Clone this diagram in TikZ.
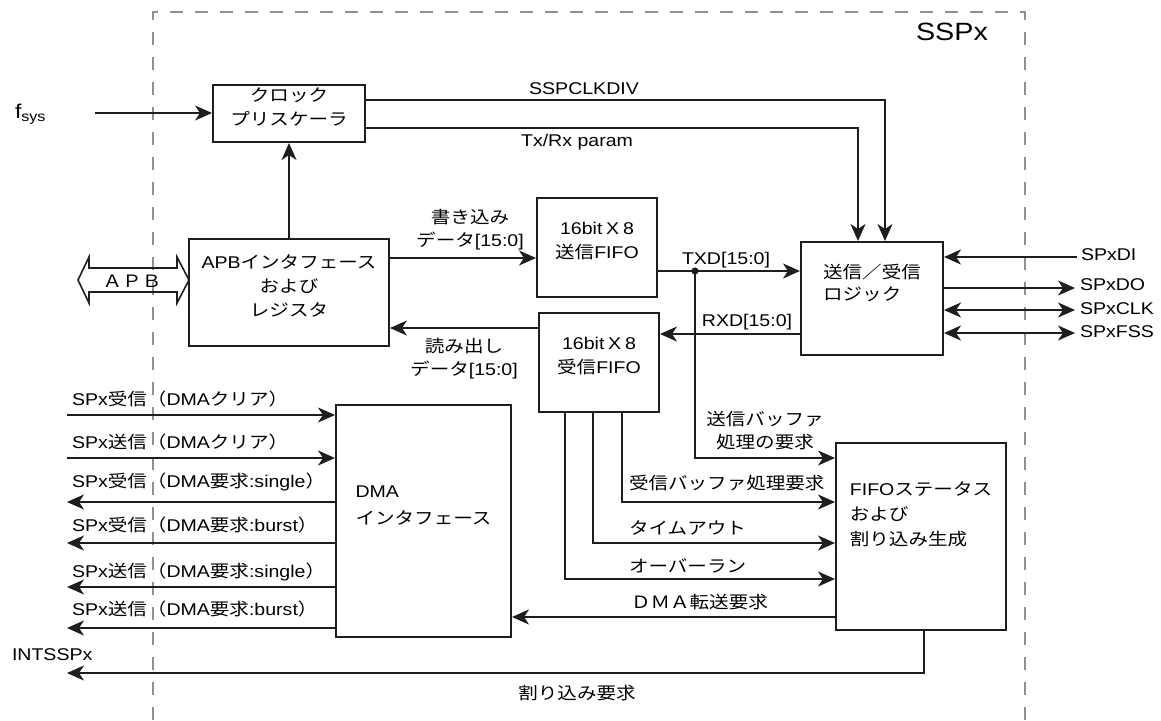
\documentclass[tikz,border=0pt]{standalone}
\usepackage{fontspec}
\setmainfont{Liberation Sans}[FakeStretch=1.15]
\newfontfamily\jpfont{Noto Sans CJK JP}[FakeStretch=1.15]
\newcommand{\jtxt}[1]{{\jpfont #1}}
\newcommand{\leftlines}[1]{\begin{tabular}{@{}l@{}}#1\end{tabular}}
\usepackage{xcolor}
\usepackage{tikz}
\usetikzlibrary{arrows.meta,fit}

\definecolor{sspgray}{HTML}{8E909E}
\definecolor{wirecol}{HTML}{1E1E1E}

\tikzset{
  blk/.style={draw=wirecol, line width=1pt, inner sep=0pt, align=center, font=\fontsize{8.5}{12}\selectfont},
  jp/.style={font=\fontsize{8.5}{12}\selectfont\jpfont},
  lbl/.style={inner sep=0pt, align=center, font=\fontsize{8.5}{11.5}\selectfont},
  wire/.style={draw=wirecol, line width=1pt},
  border/.style={draw=sspgray, dash pattern=on 6.5pt off 6pt, line width=1.2pt}
}

\begin{document}
\begin{tikzpicture}[x=0.5pt,y=-0.5pt,line width=1pt,
    >={Stealth[length=8.5pt,width=7.5pt,inset=2.5pt]}]
  \useasboundingbox (0,0) rectangle (1161,720);
  % SSPx boundary
  \draw[border] (153,720) -- (153,12) -- (1025,12) -- (1025,720);
  \node[inner sep=0pt, font=\fontsize{12.5}{14}\selectfont] (title) at (952,32) {SSPx};

  % blocks
  \node[blk, jp, fit={(213,85) (365,142)}] (clk) {クロック\\プリスケーラ};
  \node[blk, fit={(189,239) (389,346)}] (apb) {APB\jtxt{インタフェース}\\\jtxt{および}\\\jtxt{レジスタ}};
  \node[blk, fit={(537,198) (657,297)}] (fifotx) {16bit\hspace{0.22em}X\hspace{0.22em}8\\\jtxt{送信}FIFO};
  \node[blk, fit={(539,313) (659,412)}] (fiforx) {16bit\hspace{0.22em}X\hspace{0.22em}8\\\jtxt{受信}FIFO};
  \node[blk, jp, fit={(801,242) (943,355)}] (logic) {\leftlines{送信／受信\\[-1pt]ロジック}};
  \node[blk, fit={(336,405) (511,637)}] (dma) {\leftlines{DMA\\[1.5pt]\jtxt{インタフェース}}};
  \node[blk, fit={(836,443) (1006,630)}] (status) {\leftlines{FIFO\jtxt{ステータス}\\[0.5pt]\jtxt{および}\\[0.5pt]\jtxt{割り込み生成}}};

  % clock
  \node[lbl, anchor=west, font=\fontsize{10}{12}\selectfont] (fsys) at (14,114) {f\textsubscript{sys}};
  \coordinate (fin) at (95,113);
  \draw[wire,->] (fin) -- (fin -| clk.west);
  \draw[wire,->] (apb.north) -- (clk.south);
  \draw[wire,->] (clk.east |- 0,100) -| (logic.north -| 885,0);
  \draw[wire,->] (clk.east |- 0,128) -| (logic.north -| 858,0);
  \node[lbl] (lclkdiv) at (584,89) {SSPCLKDIV};
  \node[lbl] (ltxrx) at (577,142) {Tx/Rx param};

  % APB bus
  \draw[wire, line width=0.8pt] (78,280) -- (89,257) -- (89,268) -- (177,268) -- (177,257)
    -- (189,280) -- (177,303) -- (177,292) -- (89,292) -- (89,303) -- cycle;
  \node[lbl, font=\fontsize{8.5}{11}\selectfont\jpfont] (lapb) at (132,281) {ＡＰＢ};

  % data paths
  \draw[wire,->] (apb.east |- 0,258) -- (fifotx.west |- 0,258);
  \node[lbl] (lwr) at (470,230) {\jtxt{書き込み}\\\jtxt{データ}[15:0]};
  \draw[wire,->] (fiforx.west |- 0,328) -- (apb.east |- 0,328);
  \node[lbl] (lrd) at (464,359) {\jtxt{読み出し}\\\jtxt{データ}[15:0]};
  \coordinate (tj) at (695,271);
  \draw[wire,->] (fifotx.east |- tj) -- (tj -| logic.west);
  \fill[wirecol] (tj) circle (1.8pt);
  \node[lbl] (ltxd) at (726,260) {TXD[15:0]};
  \draw[wire,->] (logic.west |- 0,334) -- (fiforx.east |- 0,334);
  \node[lbl] (lrxd) at (747,322) {RXD[15:0]};

  % serial pins
  \coordinate (pdi) at (1077,257);
  \coordinate (pdo) at (1075,288);
  \coordinate (pclk) at (1075,310);
  \coordinate (pfss) at (1075,333);
  \draw[wire,->] (pdi) -- (pdi -| logic.east);
  \draw[wire,->] (logic.east |- pdo) -- (pdo);
  \draw[wire,<->] (logic.east |- pclk) -- (pclk);
  \draw[wire,<->] (logic.east |- pfss) -- (pfss);
  \node[lbl, anchor=west] (sdi) at (1080,255) {SPxDI};
  \node[lbl, anchor=west] (sdo) at (1079,285) {SPxDO};
  \node[lbl, anchor=west] (sclk) at (1079,309) {SPxCLK};
  \node[lbl, anchor=west] (sfss) at (1079,332) {SPxFSS};

  % status inputs
  \draw[wire,->] (tj) |- (status.west |- 0,458);
  \node[lbl, font=\fontsize{8.5}{11.5}\selectfont\jpfont] (ltxreq) at (765,431) {送信バッファ\\処理の要求};
  \draw[wire,->] (fiforx.south -| 622,0) |- (status.west |- 0,502);
  \node[lbl, anchor=west, font=\fontsize{8.5}{11}\selectfont\jpfont] (lrxreq) at (628,483) {受信バッファ処理要求};
  \draw[wire,->] (fiforx.south -| 593,0) |- (status.west |- 0,543);
  \node[lbl, anchor=west, font=\fontsize{8.5}{11}\selectfont\jpfont] (ltmo) at (628,528) {タイムアウト};
  \draw[wire,->] (fiforx.south -| 565,0) |- (status.west |- 0,579);
  \node[lbl, anchor=west, font=\fontsize{8.5}{11}\selectfont\jpfont] (lovr) at (628,566) {オーバーラン};
  \draw[wire,->] (status.west |- 0,617) -- (dma.east |- 0,617);
  \node[lbl, anchor=west, font=\fontsize{8.5}{11}\selectfont\jpfont] (ldmareq) at (630,602) {ＤＭＡ転送要求};

  % interrupt
  \coordinate (intout) at (67,673);
  \draw[wire,->] (status.south -| 924,0) |- (intout);
  \node[lbl, anchor=west] (intssp) at (11,655) {INTSSPx};
  \node[lbl, font=\fontsize{8.5}{11}\selectfont\jpfont] (lint) at (577,693) {割り込み要求};

  % DMA handshake
  \foreach \i/\yy/\ly/\txt in {1/415/399/{SPx\jtxt{受信（}DMA\jtxt{クリア）}},
                               2/458/442/{SPx\jtxt{送信（}DMA\jtxt{クリア）}}} {
    \coordinate (din\i) at (67,\yy);
    \draw[wire,->] (din\i) -- (din\i -| dma.west);
    \node[lbl, anchor=west] (ldin\i) at (71,\ly) {\txt};
  }
  \foreach \i/\yy/\ly/\txt in {3/502/482/{SPx\jtxt{受信（}DMA\jtxt{要求}:single\jtxt{）}},
                               4/543/525/{SPx\jtxt{受信（}DMA\jtxt{要求}:burst\jtxt{）}},
                               5/587/572/{SPx\jtxt{送信（}DMA\jtxt{要求}:single\jtxt{）}},
                               6/628/609/{SPx\jtxt{送信（}DMA\jtxt{要求}:burst\jtxt{）}}} {
    \coordinate (dout\i) at (67,\yy);
    \draw[wire,->] (dout\i -| dma.west) -- (dout\i);
    \node[lbl, anchor=west] (ldout\i) at (71,\ly) {\txt};
  }
\end{tikzpicture}
\end{document}
